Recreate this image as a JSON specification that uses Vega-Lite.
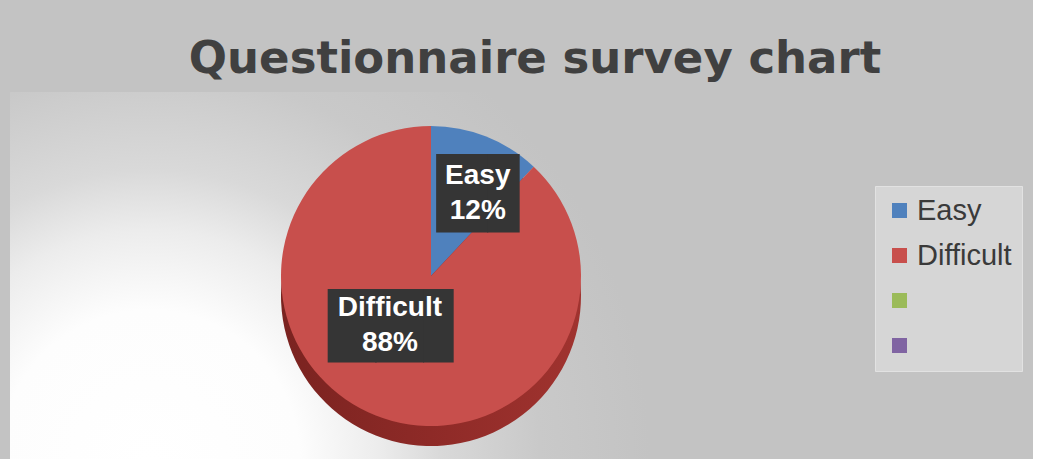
{
  "$schema": "https://vega.github.io/schema/vega-lite/v6.json",
  "width": 842,
  "height": 368,
  "padding": {"left": 10, "top": 37, "right": 10, "bottom": 0},
  "background": "#c3c3c3",
  "title": {
    "text": "Questionnaire survey chart",
    "font": "DejaVu Sans",
    "fontWeight": "bold",
    "fontSize": 45,
    "color": "#404040",
    "anchor": "middle",
    "frame": "group",
    "dx": 104,
    "offset": 10
  },
  "data": {
    "values": [
      {"category": "Easy", "value": 12, "idx": 1, "label": "Easy\n12%"},
      {"category": "Difficult", "value": 88, "idx": 2, "label": "Difficult\n88%"}
    ]
  },
  "layer": [
    {
      "data": {"values": [{}]},
      "mark": {
        "type": "rect",
        "color": {
          "gradient": "radial",
          "x1": 0.166, "y1": 0.7185, "r1": 0,
          "x2": 0.166, "y2": 0.7185, "r2": 0.594,
          "stops": [
            {"offset": 0, "color": "#ffffff"},
            {"offset": 0.3, "color": "#fdfdfd"},
            {"offset": 0.46, "color": "#ececec"},
            {"offset": 0.58, "color": "#d9d9d9"},
            {"offset": 0.78, "color": "#c9c9c9"},
            {"offset": 1, "color": "#c3c3c3"}
          ]
        }
      }
    },
    {
      "mark": {
        "type": "arc",
        "outerRadius": 150,
        "yOffset": 20,
        "color": {
          "gradient": "linear",
          "x1": 0, "y1": 0, "x2": 1, "y2": 0,
          "stops": [
            {"offset": 0, "color": "#7a2320"},
            {"offset": 0.5, "color": "#8e2a27"},
            {"offset": 1, "color": "#a0332f"}
          ]
        }
      },
      "encoding": {
        "theta": {"field": "value", "type": "quantitative", "stack": true},
        "order": {"field": "idx", "type": "quantitative"}
      }
    },
    {
      "mark": {"type": "arc", "outerRadius": 150},
      "encoding": {
        "theta": {"field": "value", "type": "quantitative", "stack": true},
        "order": {"field": "idx", "type": "quantitative"},
        "color": {
          "field": "category",
          "type": "nominal",
          "scale": {
            "domain": ["Easy", "Difficult", "Series 3", "Series 4"],
            "range": ["#4f81bd", "#c84f4c", "#9bbb59", "#8064a2"]
          },
          "legend": {
            "title": null,
            "labelExpr": "datum.label === 'Easy' || datum.label === 'Difficult' ? datum.label : ''"
          }
        }
      }
    },
    {
      "mark": {
        "type": "text",
        "font": "DejaVu Sans",
        "color": "#353535",
        "align": "center",
        "baseline": "middle",
        "radius": {"expr": "datum.category === 'Easy' ? 95 : 64"},
        "thetaOffset": {"expr": "datum.category === 'Easy' ? 0.138 : 0.32"},
        "fontSize": {"expr": "datum.category === 'Easy' ? 66 : 62"},
        "dx": 10,
        "dy": 3
      },
      "encoding": {
        "theta": {"field": "value", "type": "quantitative", "stack": true},
        "order": {"field": "idx", "type": "quantitative"},
        "text": {"condition": {"test": "datum.category === 'Easy'", "value": "█▋"}, "value": "██▋"}
      }
    },
    {
      "mark": {
        "type": "text",
        "font": "Liberation Sans",
        "fontWeight": "bold",
        "fontSize": 28,
        "color": "#ffffff",
        "lineBreak": "\n",
        "lineHeight": 35,
        "align": "center",
        "baseline": "middle",
        "dy": -17,
        "radius": {"expr": "datum.category === 'Easy' ? 95 : 64"},
        "thetaOffset": {"expr": "datum.category === 'Easy' ? 0.138 : 0.32"}
      },
      "encoding": {
        "theta": {"field": "value", "type": "quantitative", "stack": true},
        "order": {"field": "idx", "type": "quantitative"},
        "text": {"field": "label", "type": "nominal"}
      }
    }
  ],
  "config": {
    "view": {"stroke": null},
    "legend": {
      "orient": "none",
      "legendX": 865,
      "legendY": 94,
      "fillColor": "#d6d6d6",
      "strokeColor": "#e2e2e2",
      "padding": 10,
      "symbolOffset": 0,
      "symbolType": "square",
      "symbolSize": 225,
      "symbolStrokeWidth": 0,
      "labelFont": "Liberation Sans",
      "labelFontSize": 29,
      "labelColor": "#3a3a3a",
      "labelOffset": 3,
      "rowPadding": 15
    }
  }
}
